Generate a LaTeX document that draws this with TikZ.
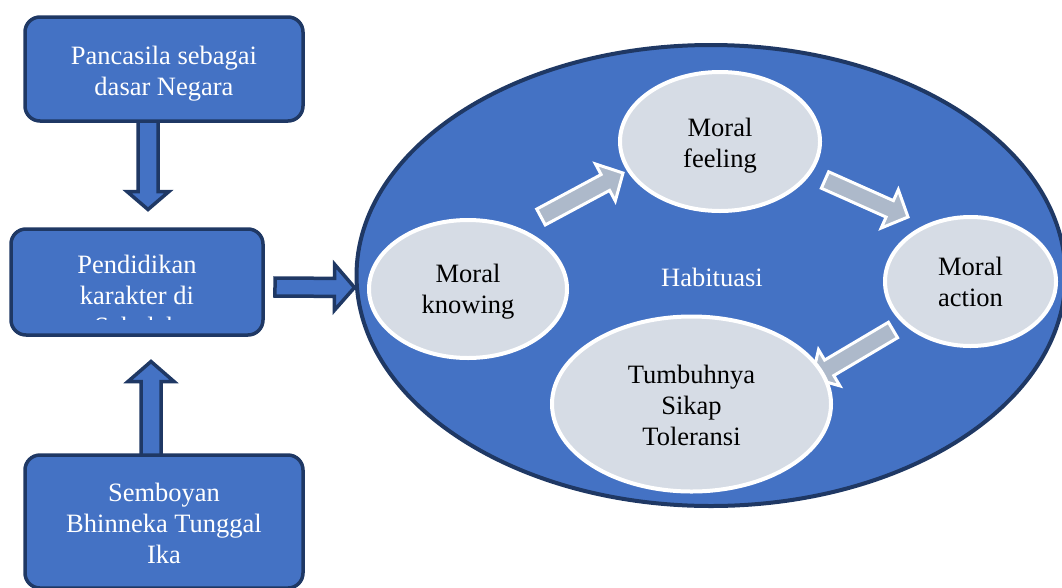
\documentclass[tikz,border=0pt]{standalone}
\usepackage{fontspec}
\setmainfont{Liberation Serif}
\usetikzlibrary{calc}
\usetikzlibrary{shapes.geometric}
\definecolor{boxblue}{HTML}{4472C4}
\definecolor{boxnavy}{HTML}{1F3864}
\definecolor{ovalgray}{HTML}{D6DCE5}
\definecolor{arrowgray}{HTML}{ADB9CA}
\newcommand{\diagfont}{\fontsize{26.5}{31}\selectfont}
% lines of a label, set a little lower than the node centre
\newcommand{\stacktext}[2][3pt]{\raisebox{-#1}[\height][\depth]{\begin{tabular}{@{}c@{}}#2\end{tabular}}}
% block arrow: style, tail, tip, shaft half width, head half width, head length
\newcommand{\blockarrow}[6]{%
   \coordinate (hb) at ($(#3)!#6pt!(#2)$);
   \draw[#1] ($(#2)!#4pt!90:(#3)$) -- ($(hb)!#4pt!-90:(#2)$) -- ($(hb)!#5pt!-90:(#2)$)
      -- (#3) -- ($(hb)!#5pt!90:(#2)$) -- ($(hb)!#4pt!90:(#2)$) -- ($(#2)!#4pt!-90:(#3)$) -- cycle;}
\tikzset{
   bigbox/.style={rectangle, rounded corners=15pt, draw=boxnavy, line width=3.5pt,
      fill=boxblue, text=white, align=center, font=\diagfont},
   boxtext/.style={text=white, align=center, font=\diagfont},
   bigarrow/.style={draw=boxnavy, line width=3.5pt, fill=boxblue, line join=miter},
   smallarrow/.style={draw=white, line width=3pt, fill=arrowgray, line join=miter},
   bigoval/.style={ellipse, draw=boxnavy, line width=4pt, fill=boxblue},
   oval/.style={ellipse, draw=white, line width=4pt, fill=ovalgray, inner sep=0pt,
      align=center, font=\diagfont},
}
\begin{document}
\begin{tikzpicture}[x=1pt, y=-1pt]
            \useasboundingbox (0,0) rectangle (1062,587);
            \clip (0,0) rectangle (1062,587);
            \node[bigoval, minimum width=709pt, minimum height=461pt] (habit) at (711,275.5) {};
            \node[text=white, font=\diagfont] (habitlabel) at (712,277) {Habituasi};
            \coordinate (k1) at (541,217);
            \coordinate (f1) at (623,173);
            \coordinate (f2) at (825,180);
            \coordinate (a1) at (908,217);
            \coordinate (a2) at (893,330);
            \coordinate (t1) at (812,378);
            \blockarrow{smallarrow}{k1}{f1}{9}{21}{20}
            \blockarrow{smallarrow}{f2}{a1}{9}{21}{20}
            \blockarrow{smallarrow}{a2}{t1}{9}{21}{20}
            \node[oval, minimum width=198pt, minimum height=138pt] (knowing) at (468,289) {\stacktext{Moral\\knowing}};
            \node[oval, minimum width=200pt, minimum height=139pt] (feeling) at (720,141.5) {\stacktext[4pt]{Moral\\feeling}};
            \node[oval, minimum width=171pt, minimum height=129pt] (action) at (970.5,281.5) {\stacktext[3pt]{Moral\\action}};
            \node[oval, minimum width=279pt, minimum height=175pt] (toleransi) at (691.5,404) {\stacktext[4pt]{Tumbuhnya\\Sikap\\Toleransi}};

            \coordinate (d1) at (148,121);
            \coordinate (d2) at (148,209.5);
            \coordinate (u1) at (151,457);
            \coordinate (u2) at (151,361.5);
            \coordinate (r1) at (275,287);
            \coordinate (r2) at (354.5,287.5);
            \blockarrow{bigarrow}{d1}{d2}{10}{21}{18}
            \blockarrow{bigarrow}{u1}{u2}{10}{23}{20}
            \blockarrow{bigarrow}{r1}{r2}{9}{23}{20}
            \node[bigbox, minimum width=278pt, minimum height=104pt] (pancasila) at (164,69) {\stacktext[5pt]{Pancasila sebagai\\dasar Negara}};
            \node[bigbox, minimum width=252pt, minimum height=106pt] (pendidikan) at (137,282) {};
            \begin{scope}
               \clip (11,229) rectangle (263,319);
               \node[boxtext] (pendidikantext) at (137,295) {Pendidikan\\karakter di\\Sekolah};
            \end{scope}
            \node[bigbox, minimum width=278pt, minimum height=133pt] (semboyan) at (164,521.5) {\stacktext[5pt]{Semboyan\\Bhinneka Tunggal\\Ika}};
        \end{tikzpicture}
\end{document}
